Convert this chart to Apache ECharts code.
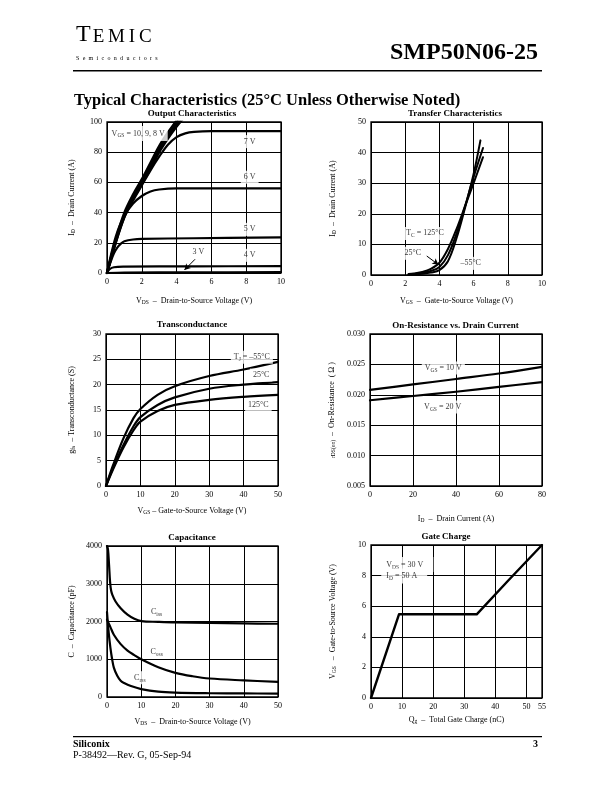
<!DOCTYPE html>
<html>
<head>
<meta charset="utf-8">
<script src="https://cdn.jsdelivr.net/npm/echarts@6/dist/echarts.min.js"></script>
<style>
html,body{margin:0;padding:0;background:#fff;}
#c{width:612px;height:792px;}
</style>
</head>
<body>
<div id="c"></div>
<script>
// ---------- tick labels ----------
const outXTicks = [0, 2, 4, 6, 8, 10];
const outYTicks = [0, 20, 40, 60, 80, 100];
const trXTicks = [0, 2, 4, 6, 8, 10];
const trYTicks = [0, 10, 20, 30, 40, 50];
const gmXTicks = [0, 10, 20, 30, 40, 50];
const gmYTicks = [0, 5, 10, 15, 20, 25, 30];
const ronXTicks = [0, 20, 40, 60, 80];
const ronYTicks = [0.005, 0.010, 0.015, 0.020, 0.025, 0.030];
const capXTicks = [0, 10, 20, 30, 40, 50];
const capYTicks = [0, 1000, 2000, 3000, 4000];
const qgXTicks = [0, 10, 20, 30, 40, 50, 55];
const qgYTicks = [0, 2, 4, 6, 8, 10];

// ---------- Output Characteristics (VDS, ID) ----------
const out10V = [[0,0],[0.5,22],[1,40],[1.5,52],[2,62],[2.5,73],[3,84],[3.5,93],[4,101],[4.4,107]];
const out9V  = [[0,0],[0.5,21],[1,38],[1.5,50],[2,60],[2.5,71],[3,82],[3.5,91],[4,99],[4.4,105]];
const out8V  = [[0,0],[0.5,20],[1,37],[1.5,49],[2,59],[2.5,69],[3,80],[3.5,89],[4,97],[4.5,104]];
const out7V  = [[0,0],[0.5,20],[1,37],[1.5,48],[2,58],[2.5,68],[3,77],[3.5,85],[4,90],[4.5,92.5],[5,93.5],[6,94],[8,94],[10,94]];
const out6V  = [[0,0],[0.25,13],[0.5,24],[0.75,32],[1,38],[1.5,46],[2,51],[2.5,54],[3,55.3],[4,56],[6,56],[10,56]];
const out5V  = [[0,0],[0.2,7],[0.4,13],[0.6,17],[0.8,19.5],[1,21],[1.5,22.2],[2,22.6],[5,23],[10,23.6]];
const out4V  = [[0,0],[0.15,2.5],[0.4,3.8],[1,4.2],[5,4.4],[10,4.6]];
const out3V  = [[0,0],[1,0.3],[5,0.4],[10,0.6]];

// ---------- Transfer Characteristics (VGS, ID) ----------
const tr125C = [[2.2,0.3],[2.5,0.5],[3,1],[3.5,2],[4,4],[4.5,8.5],[5,15],[5.5,22.5],[6,30],[6.55,38.5]];
const tr25C  = [[2.2,0.2],[2.5,0.35],[3,0.7],[3.5,1.3],[4,2.6],[4.5,6.5],[5,13.5],[5.5,22.5],[6,32],[6.55,41.5]];
const trM55C = [[2.2,0.1],[2.5,0.2],[3,0.4],[3.5,0.8],[4,1.6],[4.5,4.5],[5,12],[5.5,22],[6,33],[6.4,44]];

// ---------- Transconductance (VGS, gfs) ----------
const gmM55C = [[0,0],[2,4],[5,9.3],[8,13.4],[10,15.2],[15,18],[20,19.7],[30,21.7],[40,23],[50,24.5]];
const gm25C  = [[0,0],[2,3.5],[5,8],[8,11.8],[10,13.6],[15,16],[20,17.5],[30,19.2],[40,20],[50,20.5]];
const gm125C = [[0,0],[2,3.2],[5,7.5],[8,11],[10,12.7],[15,14.8],[20,16],[30,17],[40,17.6],[50,18]];

// ---------- On-Resistance (ID, rDS(on)) ----------
const ron10V = [[0,0.0208],[20,0.0217],[40,0.0226],[60,0.0235],[80,0.0246]];
const ron20V = [[0,0.0191],[20,0.0198],[40,0.0205],[60,0.0213],[80,0.0221]];

// ---------- Capacitance (VDS, pF) ----------
const capCiss = [[0,4000],[0.3,3900],[0.6,3500],[0.9,3050],[1.2,2820],[1.6,2700],[2.5,2530],[4,2350],[6,2180],[8,2070],[10,2010],[15,1990],[20,1975],[30,1960],[40,1950],[50,1940]];
const capCoss = [[0,2050],[0.5,1950],[1,1850],[2,1650],[4,1400],[6,1230],[8,1110],[10,1000],[15,790],[20,640],[25,550],[30,490],[40,440],[50,400]];
const capCrss = [[0,2250],[0.5,1700],[1,1300],[1.5,1000],[2,780],[3,560],[4,430],[5,370],[7,290],[10,210],[15,140],[20,115],[30,100],[40,95],[50,90]];

// ---------- Gate Charge (Qg, VGS) ----------
const gateCharge = [[0,0],[9,5.47],[34,5.47],[44,7.65],[55,10]];

// ---------- annotation texts (data-space anchors) ----------
const outNotes = [[0.15,92.4,'{n|V}{s|GS}{n| = 10, 9, 8 V}','left'],[8.2,87,'{n|7 V}'],[8.2,63.4,'{n|6 V}'],[8.2,28.9,'{n|5 V}'],[8.2,11.7,'{n|4 V}'],[5.25,14.1,'{n|3 V}']];
const outArrow = [[5.06,9.1],[4.45,2]];
const trNotes = [[3.16,13.6,'{n|T}{s|C}{n| = 125°C}'],[2.44,7.1,'{n|25°C}'],[5.83,3.8,'{n|–55°C}']];
const trArrow = [[3.26,6.2],[3.94,3.4]];
const gmNotes = [[42.4,25.4,'{n|T}{s|J}{n| = –55°C}'],[45.1,21.9,'{n|25°C}'],[44.3,16.1,'{n|125°C}']];
const ronNotes = [[34.1,0.0244,'{n|V}{s|GS}{n| = 10 V}'],[33.8,0.0180,'{n|V}{s|GS}{n| = 20 V}']];
const capNotes = [[14.5,2244,'{n|C}{s|iss}'],[14.5,1200,'{n|C}{s|oss}'],[9.6,511,'{n|C}{s|rss}']];
const qgNotes = [[3.3,8.72,'{n|V}{s|DS}{n| = 30 V}','left'],[3.3,7.98,'{n|I}{s|D}{n| = 50 A}','left']];

// ---------- layout ----------
const FONT = 'Liberation Serif';
const RICH = {
  n: {fontSize: 8, fontFamily: FONT, color: '#000', lineHeight: 11},
  s: {fontSize: 5.5, fontFamily: FONT, color: '#000', lineHeight: 6, verticalAlign: 'bottom'}
};
const grids = [
  {left:107, top:122, width:174, height:151},
  {left:371, top:122, width:171, height:153},
  {left:106, top:334, width:172, height:152},
  {left:370, top:334, width:172, height:152},
  {left:107, top:546, width:171, height:151},
  {left:371, top:545, width:171, height:153}
].map(g => Object.assign({show:true, borderColor:'#000', borderWidth:1.3, containLabel:false, backgroundColor:'transparent'}, g));

function axis(idx, ticks, name, gap, isY, fmt) {
  const iv = +(ticks[1] - ticks[0]).toPrecision(6);
  return {
    type: 'value', gridIndex: idx, min: ticks[0], max: ticks[ticks.length - 1], interval: iv,
    name: name, nameLocation: 'middle', nameGap: gap, nameMoveOverlap: false,
    nameTextStyle: {fontSize: 8, fontFamily: FONT, color: '#000', rich: RICH},
    axisLine: {show: false}, axisTick: {show: false},
    axisLabel: {fontSize: 8, fontFamily: FONT, color: '#000', margin: 5, formatter: fmt || (v => String(v)), showMinLabel: true, showMaxLabel: true, hideOverlap: false},
    splitLine: {show: true, lineStyle: {color: '#000', width: 1}}
  };
}
const xAxes = [
  axis(0, outXTicks, '{n|V}{s|DS}{n|  –  Drain-to-Source Voltage (V)}', 22, false),
  axis(1, trXTicks, '{n|V}{s|GS}{n|  –  Gate-to-Source Voltage (V)}', 20, false),
  axis(2, gmXTicks, '{n|V}{s|GS}{n| – Gate-to-Source Voltage (V)}', 19, false),
  axis(3, ronXTicks, '{n|I}{s|D}{n|  –  Drain Current (A)}', 27, false),
  axis(4, capXTicks, '{n|V}{s|DS}{n|  –  Drain-to-Source Voltage (V)}', 19, false),
  axis(5, qgXTicks, '{n|Q}{s|g}{n|  –  Total Gate Charge (nC)}', 16, false)
];
const yAxes = [
  axis(0, outYTicks, '{n|I}{s|D}{n|  –  Drain Current (A)}', 30, true),
  axis(1, trYTicks, '{n|I}{s|D}{n|  –  Drain Current (A)}', 33, true),
  axis(2, gmYTicks, '{n|g}{s|fs}{n|  – Transconductance (S)}', 29, true),
  axis(3, ronYTicks, '{s|rDS(on)}{n|  –  On-Resistance  ( Ω )}', 33, true, v => v.toFixed(3)),
  axis(4, capYTicks, '{n|C  –  Capacitance (pF)}', 30, true),
  axis(5, qgYTicks, '{n|V}{s|GS}{n|   –  Gate-to-Source Voltage (V)}', 33, true)
];

function curve(g, data, w, smooth) {
  return {type:'line', xAxisIndex:g, yAxisIndex:g, data:data, symbol:'none', showSymbol:false,
    smooth: smooth === false ? false : 0.35, clip:true, z:3, silent:true,
    lineStyle:{color:'#000', width:w || 2.2, join:'round', cap:'round'}};
}
function notes(g, list, arrow, boxPad) {
  const s = {type:'scatter', xAxisIndex:g, yAxisIndex:g, symbolSize:0, z:5, silent:true,
    itemStyle:{color:'transparent'},
    data: list.map(n => ({value:[n[0], n[1]], txt:n[2],
      label:{show:true, position:'inside', align:n[3] || 'center', formatter: p => p.data.txt, rich: RICH,
        backgroundColor:'#fff', padding: boxPad || (n[3] ? [2,3,2,2] : [1,3,1,3])}}))
  };
  if (arrow) {
    s.markLine = {silent:true, symbol:['none','arrow'], symbolSize:[5,6], animation:false,
      label:{show:false}, lineStyle:{color:'#000', width:1, type:'solid'},
      data:[[{coord:arrow[0]},{coord:arrow[1]}]]};
  }
  return s;
}

const series = [
  curve(0, out10V, 2.5), curve(0, out9V, 2.5), curve(0, out8V, 2.5), curve(0, out7V), curve(0, out6V),
  curve(0, out5V), curve(0, out4V), curve(0, out3V),
  curve(1, tr125C, 2), curve(1, tr25C, 2), curve(1, trM55C, 2),
  curve(2, gmM55C), curve(2, gm25C), curve(2, gm125C),
  curve(3, ron10V), curve(3, ron20V),
  curve(4, capCiss), curve(4, capCoss), curve(4, capCrss),
  curve(5, gateCharge, 2.4, false),
  notes(0, outNotes, outArrow), notes(1, trNotes, trArrow), notes(2, gmNotes),
  notes(3, ronNotes), notes(4, capNotes), notes(5, qgNotes, null, [2,10,2,5])
];

function txt(x, y, text, size, weight, align, vAlign, rich) {
  const st = {text:text, x:0, y:0, fontSize:size, fontFamily:FONT, fontWeight:weight || 'normal', fill:'#000',
    align:align || 'left', verticalAlign:vAlign || 'middle'};
  if (rich) st.rich = rich;
  return {type:'text', x:x, y:y, silent:true, style:st};
}
const semi = 'Semiconductors'.split('').map(c => '{s|' + c + '}').join('');
const graphics = [
  txt(76, 46.5, '{a|T}{b|E}{b|M}{b|I}{b|C}', 19, 'normal', 'left', 'bottom', {
    a:{fontSize:24, fontFamily:FONT, color:'#000', verticalAlign:'bottom', padding:[0,2,0,0]},
    b:{fontSize:19, fontFamily:FONT, color:'#000', verticalAlign:'bottom', padding:[0,3.8,0,0]}}),
  txt(76, 58.5, semi, 6, 'normal', 'left', 'middle', {s:{fontSize:6, fontFamily:FONT, color:'#000', padding:[0,3.3,0,0]}}),
  txt(538, 53, 'SMP50N06-25', 24, 'bold', 'right', 'middle'),
  {type:'line', silent:true, shape:{x1:73, y1:70.7, x2:542, y2:70.7}, style:{stroke:'#000', lineWidth:1.5}},
  txt(74, 100.5, 'Typical Characteristics (25°C Unless Otherwise Noted)', 16.5, 'bold', 'left', 'middle'),
  txt(192, 114, 'Output Characteristics', 9, 'bold', 'center', 'middle'),
  txt(455, 114, 'Transfer Characteristics', 9, 'bold', 'center', 'middle'),
  txt(192, 325, 'Transconductance', 9, 'bold', 'center', 'middle'),
  txt(455.5, 325.5, 'On-Resistance vs. Drain Current', 9, 'bold', 'center', 'middle'),
  txt(192, 537.5, 'Capacitance', 9, 'bold', 'center', 'middle'),
  txt(446, 537, 'Gate Charge', 9, 'bold', 'center', 'middle'),
  {type:'line', silent:true, shape:{x1:73, y1:736.7, x2:542, y2:736.7}, style:{stroke:'#000', lineWidth:1.2}},
  txt(73, 744, 'Siliconix', 10, 'bold', 'left', 'middle'),
  txt(538, 744, '3', 10, 'bold', 'right', 'middle'),
  txt(73, 755, 'P-38492—Rev. G, 05-Sep-94', 10, 'normal', 'left', 'middle')
];

const chart = echarts.init(document.getElementById('c'), null, {renderer:'canvas', width:612, height:792});
chart.setOption({
  animation:false,
  backgroundColor:'#fff',
  textStyle:{fontFamily:FONT},
  grid: grids,
  xAxis: xAxes,
  yAxis: yAxes,
  series: series,
  graphic: graphics
});
</script>
</body>
</html>
